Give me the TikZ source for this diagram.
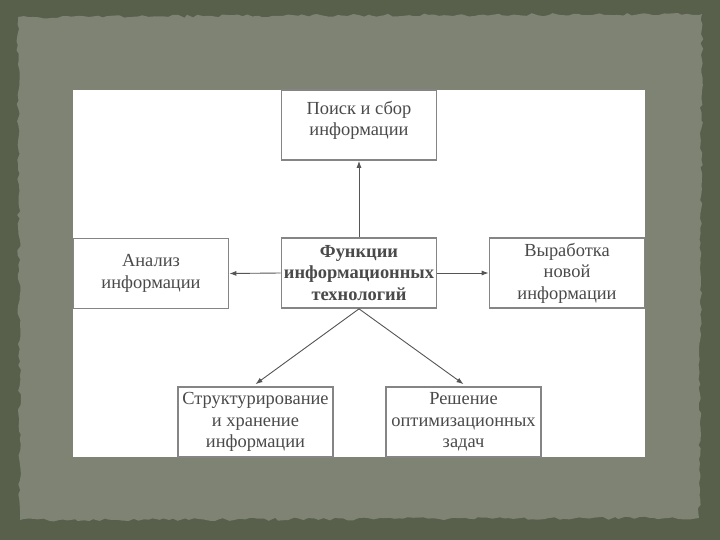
\documentclass[tikz,border=0pt]{standalone}
\usepackage{fontspec}
\setmainfont{Liberation Serif}
\usetikzlibrary{arrows.meta,decorations.pathmorphing}
\definecolor{outerbg}{HTML}{58604C}
\definecolor{panel}{HTML}{7E8374}
\definecolor{boxline}{HTML}{858585}
\definecolor{txt}{HTML}{4A4A4A}
\definecolor{arrowc}{HTML}{555555}
\tikzset{
  fbox/.style={draw=boxline, line width=1.7bp, fill=white, minimum width=155bp,
    minimum height=70bp, inner sep=0pt, align=center, text=txt,
    font=\fontsize{18.5}{21.5}\selectfont},
  conn/.style={draw=arrowc, line width=0.9bp, -{Latex[length=7bp,width=5bp]}},
  rough/.style={decorate, decoration={random steps, segment length=5bp, amplitude=1.6bp}}
}
\begin{document}
\begin{tikzpicture}[x=1bp,y=-1bp]
\useasboundingbox (0,0) rectangle (720,540);
\fill[outerbg] (0,0) rectangle (720,540);
\fill[panel, rough] (18,17) -- (702,14) -- (699,518) -- (20,520) -- cycle;
\fill[white] (73,90) rectangle (645,457);
\node[fbox] (top) at (359,125) {Поиск и сбор\\информации\\[-8bp]};
\node[fbox, font=\fontsize{18.5}{21.5}\selectfont\bfseries] (cen) at (359,273) {Функции\\информационных\\технологий};
\node[fbox] (left) at (151,273.5) {Анализ\\информации};
\node[fbox] (right) at (567,273) {Выработка\\новой\\информации};
\node[fbox] (bl) at (255.5,422) {Структурирование\\и хранение\\информации};
\node[fbox] (br) at (463.5,422) {Решение\\оптимизационных\\задач};
\draw[conn] (cen.north) -- (top.south);
\draw[conn] (cen.west) -- (left.east);
\draw[conn] (cen.east) -- (right.west);
\draw[conn] (cen.south) -- ([yshift=2bp]bl.north);
\draw[conn] (cen.south) -- ([yshift=2bp]br.north);
\end{tikzpicture}
\end{document}
